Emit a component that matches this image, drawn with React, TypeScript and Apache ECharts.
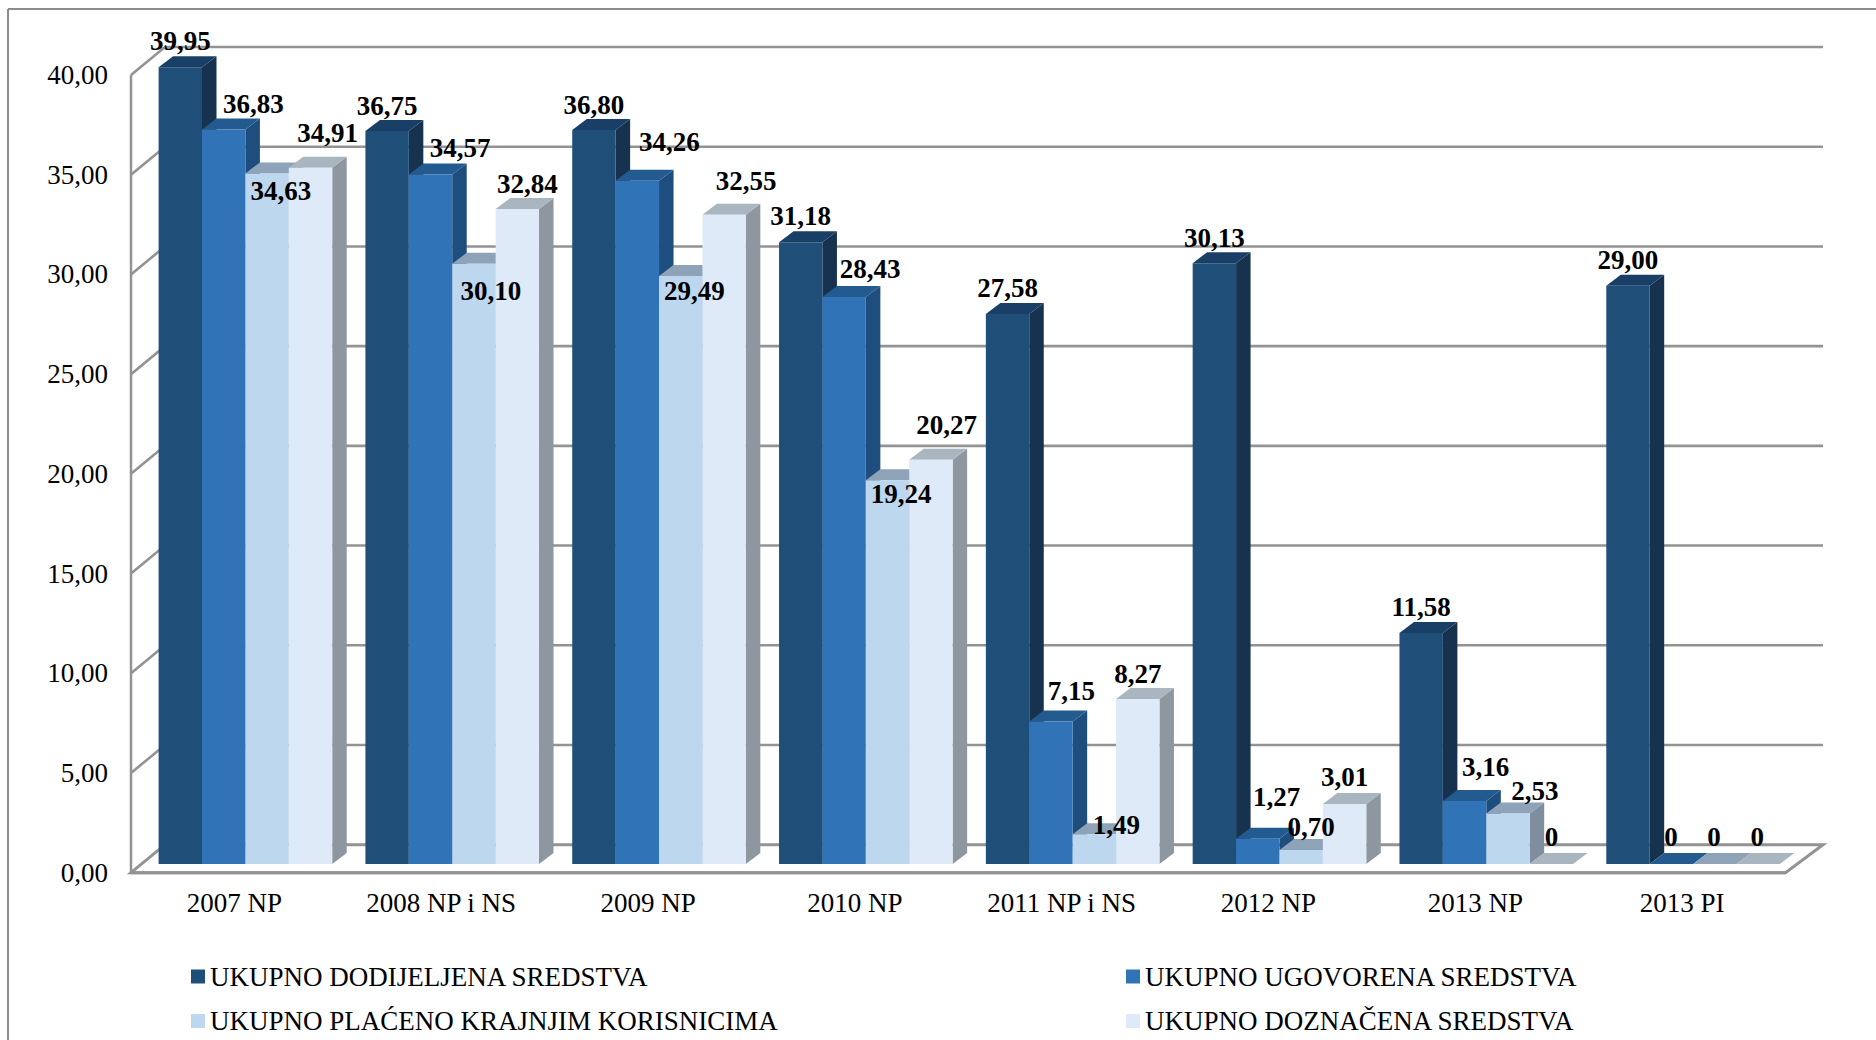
import React, { useEffect, useRef } from "react";
import * as echarts from "echarts";

const categories = ["2007 NP", "2008 NP i NS", "2009 NP", "2010 NP", "2011 NP i NS", "2012 NP", "2013 NP", "2013 PI"];
const seriesNames = [
  "UKUPNO DODIJELJENA SREDSTVA",
  "UKUPNO UGOVORENA SREDSTVA",
  "UKUPNO PLAĆENO KRAJNJIM KORISNICIMA",
  "UKUPNO DOZNAČENA SREDSTVA",
];
const dodijeljena = [39.95, 36.75, 36.8, 31.18, 27.58, 30.13, 11.58, 29.0];
const ugovorena = [36.83, 34.57, 34.26, 28.43, 7.15, 1.27, 3.16, 0];
const placeno = [34.63, 30.1, 29.49, 19.24, 1.49, 0.7, 2.53, 0];
const doznacena = [34.91, 32.84, 32.55, 20.27, 8.27, 3.01, 0, 0];
const seriesValues = [dodijeljena, ugovorena, placeno, doznacena];
const yTicks = [0, 5, 10, 15, 20, 25, 30, 35, 40];

// Hand-placed data label nudges (px from the centre of each bar's front top edge), by series then category
const labelNudges: number[][][] = [
  [[0, -26], [0, -25], [0, -25.5], [0, -26], [0, -26], [0, -25.6], [0, -25.6], [0, -25.4]],
  [[29.6, -26], [29.6, -27], [32, -39], [26, -28.4], [20.5, -30.5], [18.8, -42], [21, -34.3], [-0.4, -26.7]],
  [[13.8, 17.4], [17, 27.6], [13.7, 15.4], [13.7, 13.4], [22, -9], [10, -23.5], [27, -23], [-0.8, -26.7]],
  [[17, -34.4], [10, -25.5], [22, -33.6], [15.8, -34.3], [0, -24.6], [0, -26.5], [0, -26.7], [-1, -26.7]],
];

const frontColors = ["#1F4E79", "#3074B7", "#BDD7EE", "#DEEAF8"];
const topColors = ["#1A3F66", "#235B90", "#8EA3B8", "#A9B5BF"];
const sideColors = ["#16324F", "#1E4E7E", "#7E8E9E", "#8E979F"];

const GRID_COLOR = "#939393";
const FONT = '"Liberation Serif", "Times New Roman", serif';
const WALL_DX_LEFT = 34;
const WALL_DX_RIGHT = 37.5;
const WALL_DY = 28;
const BAR_WIDTH = 43.4;
const PLANE_DX = 11;
const PLANE_DY = 8.7;
const SIDE_DX = 14.5;
const SIDE_DY = 11;

const fmt = (v: number) => v.toFixed(2).replace(".", ",");
const fmtLabel = (v: number) => (v === 0 ? "0" : fmt(v));

function barBox(api: any, cat: number, value: number, s: number) {
  const w = BAR_WIDTH;
  const top = api.coord([cat, value]);
  const base = api.coord([cat, 0]);
  const x0 = top[0] + PLANE_DX - 2 * w + s * w;
  return { x0, x1: x0 + w, yTop: top[1] - PLANE_DY, yBase: base[1] - PLANE_DY };
}

function renderBar(s: number) {
  return (_p: any, api: any) => {
    const { x0, x1, yTop, yBase } = barBox(api, api.value(0), api.value(1), s);
    return {
      type: "group",
      children: [
        {
          type: "polygon",
          shape: { points: [[x1, yTop], [x1 + SIDE_DX, yTop - SIDE_DY], [x1 + SIDE_DX, yBase - SIDE_DY], [x1, yBase]] },
          style: { fill: sideColors[s] },
        },
        {
          type: "polygon",
          shape: { points: [[x0, yTop], [x0 + SIDE_DX, yTop - SIDE_DY], [x1 + SIDE_DX, yTop - SIDE_DY], [x1, yTop]] },
          style: { fill: topColors[s] },
        },
        {
          type: "rect",
          shape: { x: x0, y: yTop, width: x1 - x0, height: yBase - yTop },
          style: { fill: frontColors[s] },
        },
      ],
    };
  };
}

function renderWall(p: any, api: any) {
  const v = api.value(0);
  const cs = p.coordSys;
  const y = api.coord([0, v])[1];
  const left = cs.x;
  const right = cs.x + cs.width;
  if (v === 0) {
    return {
      type: "group",
      children: [
        {
          type: "polygon",
          shape: {
            points: [[left, y], [left + WALL_DX_LEFT, y - WALL_DY], [right + WALL_DX_RIGHT, y - WALL_DY], [right, y]],
          },
          style: { fill: "#ffffff", stroke: GRID_COLOR, lineWidth: 3 },
        },
        {
          type: "line",
          shape: { x1: left - 1, y1: y, x2: right, y2: y },
          style: { stroke: GRID_COLOR, lineWidth: 3 },
        },
        {
          type: "line",
          shape: { x1: left, y1: y, x2: left, y2: cs.y },
          style: { stroke: GRID_COLOR, lineWidth: 2.5 },
        },
      ],
    };
  }
  return {
    type: "polyline",
    shape: {
      points: [[left, y], [left + WALL_DX_LEFT, y - WALL_DY], [right + WALL_DX_RIGHT, y - WALL_DY]],
    },
    style: { stroke: GRID_COLOR, lineWidth: 2.6, fill: "none" },
  };
}

function renderLabel(_p: any, api: any) {
  const cat = api.value(0);
  const v = api.value(1);
  const s = api.value(2);
  const { x0, x1, yTop } = barBox(api, cat, v, s);
  const [dx, dy] = labelNudges[s][cat];
  return {
    type: "text",
    style: {
      text: fmtLabel(v),
      x: (x0 + x1) / 2 + dx,
      y: yTop + dy,
      fill: "#000000",
      font: `bold 27px ${FONT}`,
      align: "center",
      verticalAlign: "middle",
      textAlign: "center",
      textVerticalAlign: "middle",
    },
  };
}

export default function App() {
  const ref = useRef<HTMLDivElement>(null);
  useEffect(() => {
    const chart = echarts.init(ref.current!, undefined, { renderer: "svg" });
    const legendBase = {
      orient: "vertical",
      padding: 0,
      itemWidth: 14,
      itemHeight: 14,
      itemGap: 17.5,
      icon: "rect",
      selectedMode: false,
      top: 963,
      textStyle: { fontFamily: FONT, fontSize: 27, color: "#000000" },
    };
    const legendData = (idx: number[]) =>
      idx.map((i) => ({ name: seriesNames[i], itemStyle: { color: frontColors[i] } }));
    chart.setOption({
      animation: false,
      backgroundColor: "#ffffff",
      grid: { left: 131, right: 90.5, top: 75, bottom: 167.3, containLabel: false },
      legend: [
        { ...legendBase, left: 191, data: legendData([0, 2]) },
        { ...legendBase, left: 1126, data: legendData([1, 3]) },
      ],
      xAxis: {
        type: "category",
        data: categories,
        axisLine: { show: false },
        axisTick: { show: false },
        axisLabel: { fontFamily: FONT, fontSize: 27, color: "#000000", margin: 17 },
      },
      yAxis: {
        type: "value",
        min: 0,
        max: 40,
        interval: 5,
        axisLine: { show: false },
        axisTick: { show: false },
        splitLine: { show: false },
        axisLabel: { fontFamily: FONT, fontSize: 27, color: "#000000", margin: 23, formatter: (v: number) => fmt(v) },
      },
      graphic: [
        { type: "line", shape: { x1: 8, y1: 9, x2: 1876, y2: 9 }, style: { stroke: "#8C8C8C", lineWidth: 2 } },
        { type: "line", shape: { x1: 8, y1: 9, x2: 8, y2: 1040 }, style: { stroke: "#8C8C8C", lineWidth: 2 } },
      ],
      series: [
        {
          type: "custom",
          name: "walls",
          silent: true,
          z: 1,
          renderItem: renderWall,
          data: yTicks.map((v) => [v]),
          encode: { y: 0 },
        },
        ...seriesNames.map((name, s) => ({
          type: "custom",
          name,
          silent: true,
          z: 2,
          itemStyle: { color: frontColors[s] },
          renderItem: renderBar(s),
          data: seriesValues[s].map((v, c) => [c, v]),
          encode: { x: 0, y: 1 },
        })),
        {
          type: "custom",
          name: "labels",
          silent: true,
          z: 3,
          renderItem: renderLabel,
          data: seriesValues.flatMap((vals, s) => vals.map((v, c) => [c, v, s])),
          encode: { x: 0, y: 1 },
        },
      ],
    });
    return () => chart.dispose();
  }, []);
  return <div ref={ref} style={{ position: "absolute", left: 0, top: 0, width: 1876, height: 1040 }} />;
}
